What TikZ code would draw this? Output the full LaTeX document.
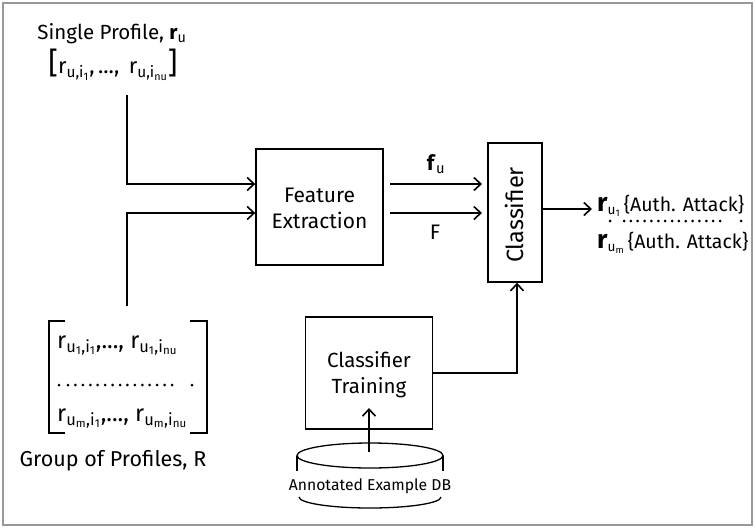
\documentclass[tikz,border=0pt]{standalone}
\usepackage{fontspec}
\setmainfont{Fira Sans}
\usetikzlibrary{arrows.meta}
\newcommand{\sbs}[1]{\textsubscript{#1}}
\newcommand{\largeboldr}{{\fontsize{26}{26}\selectfont\textbf{r}}}
\newcommand{\fs}[1]{\fontsize{#1}{#1}\selectfont}
\begin{document}
\begin{tikzpicture}[x=1pt,y=-1pt,
  every node/.style={inner sep=0pt},
  box/.style={draw, line width=1.4pt},
  conn/.style={line width=1.8pt, -{Straight Barb[length=7pt,width=13pt,line width=1.6pt]}},
  plain/.style={line width=1.6pt},
  dotrow/.style={fill, circle, inner sep=0pt, minimum size=3pt}]
\useasboundingbox (0,0) rectangle (755,528);
\draw[gray!80, line width=1.5pt] (3,3) rectangle (752,525);

% boxes
\node[box, minimum width=127pt, minimum height=116pt] (fe) at (319.5,207) {};
\node[anchor=base, font=\fs{21}] (fet1) at (319.5,202) {Feature};
\node[anchor=base, font=\fs{21}] (fet2) at (319.5,228) {Extraction};
\node[box, minimum width=54pt, minimum height=139pt] (cl) at (515,212.5) {};
\node[rotate=90, anchor=base, font=\fs{23.5}] (cltxt) at (523,215) {Classifier};
\node[box, minimum width=127pt, minimum height=112pt] (ct) at (369,373) {};
\node[anchor=base, font=\fs{20.5}] (ctt1) at (369,367) {Classifier};
\node[anchor=base, font=\fs{20.5}] (ctt2) at (369,393) {Training};

% single profile
\node[anchor=base, font=\fs{20.5}] (sp) at (112,39) {Single Profile, \textbf{r}\sbs{u}};
\node[anchor=base, font=\fs{22}] (spv) at (113,73) {{\fs{30}[}r\sbs{u,i\sbs{1}},\,...,\, r\sbs{u,i\sbs{nu}}{\fs{30}]}};

% group of profiles
\node[anchor=base west, font=\fs{23.5}] (g1) at (57,348) {r\sbs{u\sbs{1},i\sbs{1}},..., r\sbs{u\sbs{1},i\sbs{nu}}};
\node[anchor=base west, font=\fs{23.5}] (g3) at (57,421) {r\sbs{u\sbs{m},i\sbs{1}},..., r\sbs{u\sbs{m},i\sbs{nu}}};
\node[dotrow] (gd0) at (59,385) {};
\foreach \i in {0,...,14} \node[dotrow] (gd\i a) at (68+\i*7.43,385) {};
\node[dotrow] (gde) at (192,385) {};
\draw[plain] (65,321) -- (49,321) -- (49,433) -- (65,433);
\draw[plain] (190,321) -- (207,321) -- (207,433) -- (190,433);
\node[anchor=base, font=\fs{21.5}] (gp) at (113,466) {Group of Profiles, R};

% output labels
\node[anchor=base west, font=\fs{19.5}] (o1) at (597,211) {\largeboldr\sbs{u\sbs{1}}\hspace{3pt}\{Auth. Attack\}};
\node[anchor=base west, font=\fs{19.5}] (o3) at (597,248) {\largeboldr\sbs{u\sbs{m}}\hspace{3pt}\{Auth. Attack\}};
\node[dotrow] (od0) at (610,221) {};
\foreach \i in {0,...,14} \node[dotrow] (od\i a) at (624+\i*6.86,221) {};
\node[dotrow] (ode) at (741,221) {};

% database cylinder
\draw[line width=1.3pt] (370,455.5) ellipse [x radius=73pt, y radius=12.5pt];
\draw[line width=1.3pt] (297,455.5) -- (297,471);
\draw[line width=1.3pt] (443,455.5) -- (443,471);
\draw[line width=1.3pt] (299,497) arc[start angle=180, end angle=360, x radius=71pt, y radius=11pt];
\node[anchor=base, font=\fs{15.7}] (db) at (370,490) {Annotated Example DB};

% connectors
\coordinate (s1) at (127,95);
\coordinate (s2) at (127,306);
\coordinate (fa1) at (390,184);
\coordinate (fb1) at (482,184);
\coordinate (fa2) at (390,213);
\coordinate (fb2) at (482,213);
\draw[conn] (s1) |- (fe.west |- fa1);
\draw[conn] (s2) |- (fe.west |- fa2);
\draw[conn] (fa1) -- (fb1);
\draw[conn] (fa2) -- (fb2);
\node[anchor=base, font=\fs{21}] (fu) at (436,170) {\textbf{f}\sbs{u}};
\node[anchor=base, font=\fs{21}] (F) at (435,239) {F};
\coordinate (oe) at (592,209);
\draw[conn] (cl.east |- oe) -- (oe);
\draw[conn] (ct.east) -| ([xshift=2pt]cl.south);
\coordinate (dbtop) at (369,452);
\coordinate (cttip) at (369,408);
\draw[conn] (dbtop) -- (cttip);
\end{tikzpicture}
\end{document}
